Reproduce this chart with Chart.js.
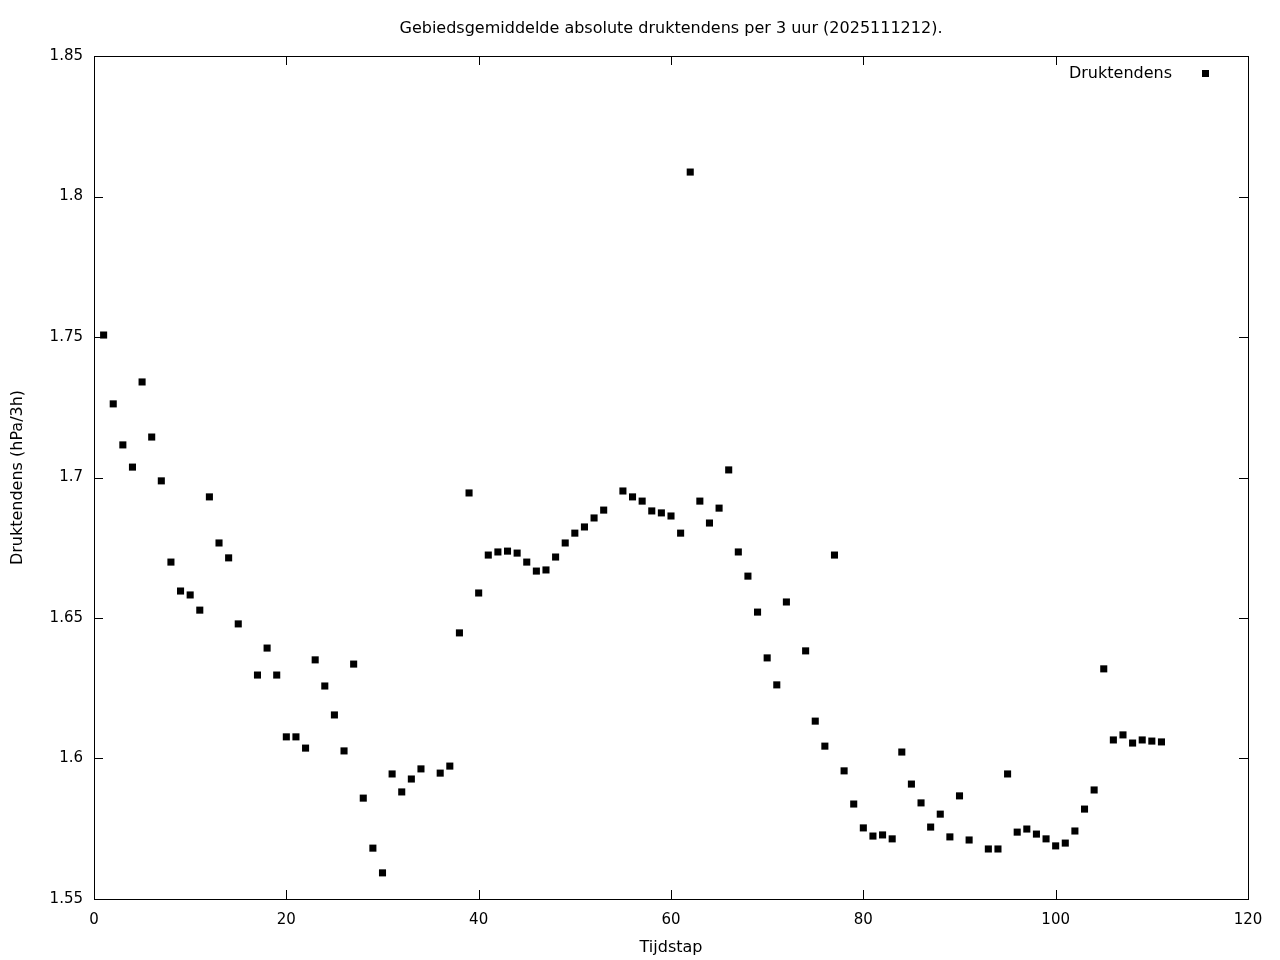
<!DOCTYPE html>
<html>
<head>
<meta charset="utf-8">
<script src="https://cdn.jsdelivr.net/npm/chart.js"></script>
<style>
  body { margin: 0; background: #fff; }
  canvas { display: block; }
</style>
</head>
<body>
<canvas id="chart" width="1280" height="960"></canvas>
<script>
// data (missing time steps left out)
const tijdstap = [
  1, 2, 3, 4, 5, 6, 7, 8, 9, 10, 11, 12, 13, 14, 15, 17, 18, 19, 20,
  21, 22, 23, 24, 25, 26, 27, 28, 29, 30, 31, 32, 33, 34, 36, 37, 38, 39, 40,
  41, 42, 43, 44, 45, 46, 47, 48, 49, 50, 51, 52, 53, 55, 56, 57, 58, 59, 60,
  61, 62, 63, 64, 65, 66, 67, 68, 69, 70, 71, 72, 74, 75, 76, 77, 78, 79, 80,
  81, 82, 83, 84, 85, 86, 87, 88, 89, 90, 91, 93, 94, 95, 96, 97, 98, 99, 100,
  101, 102, 103, 104, 105, 106, 107, 108, 109, 110, 111
];
const druktendens = [
  1.7507, 1.7262, 1.7116, 1.7037, 1.7340, 1.7144, 1.6988, 1.6699, 1.6596, 1.6582,
  1.6528, 1.6931, 1.6767, 1.6714, 1.6479, 1.6297, 1.6393, 1.6297, 1.6077,
  1.6077, 1.6037, 1.6351, 1.6258, 1.6155, 1.6027, 1.6336, 1.5859, 1.5681, 1.5593,
  1.5945, 1.5881, 1.5927, 1.5963, 1.5948, 1.5973, 1.6447, 1.6945, 1.6589,
  1.6724, 1.6735, 1.6738, 1.6731, 1.6699, 1.6667, 1.6671, 1.6717, 1.6767, 1.6802,
  1.6824, 1.6856, 1.6884, 1.6952, 1.6931, 1.6916, 1.6881, 1.6874, 1.6863,
  1.6802, 1.8087, 1.6916, 1.6838, 1.6891, 1.7027, 1.6735, 1.6649, 1.6521, 1.6358,
  1.6262, 1.6557, 1.6383, 1.6133, 1.6044, 1.6724, 1.5956, 1.5838, 1.5753,
  1.5724, 1.5728, 1.5714, 1.6023, 1.5909, 1.5842, 1.5756, 1.5802, 1.5721, 1.5867,
  1.5710, 1.5678, 1.5678, 1.5945, 1.5738, 1.5749, 1.5731, 1.5714, 1.5689,
  1.5699, 1.5742, 1.5820, 1.5888, 1.6319, 1.6066, 1.6084, 1.6055, 1.6066, 1.6062, 1.6059
];
const xTicks = [0, 20, 40, 60, 80, 100, 120];
const yTicks = [1.55, 1.6, 1.65, 1.7, 1.75, 1.8, 1.85];

const titel = 'Gebiedsgemiddelde absolute druktendens per 3 uur (2025111212).';
const FONT = 'DejaVu Sans';

// gnuplot-achtige kader, inwaartse ticks, titel en legenda
const gnuplotFrame = {
  id: 'gnuplotFrame',
  afterDraw(chart) {
    const { ctx, chartArea: a, scales } = chart;
    ctx.save();
    ctx.strokeStyle = '#000';
    ctx.lineWidth = 1;
    ctx.strokeRect(Math.round(a.left) + 0.5, Math.round(a.top) + 0.5,
      Math.round(a.right - a.left), Math.round(a.bottom - a.top));

    ctx.beginPath();
    xTicks.forEach(v => {
      const px = Math.round(scales.x.getPixelForValue(v)) + 0.5;
      ctx.moveTo(px, a.bottom); ctx.lineTo(px, a.bottom - 9);
      ctx.moveTo(px, a.top); ctx.lineTo(px, a.top + 9);
    });
    yTicks.forEach(v => {
      const py = Math.round(scales.y.getPixelForValue(v)) + 0.5;
      ctx.moveTo(a.left, py); ctx.lineTo(a.left + 9, py);
      ctx.moveTo(a.right, py); ctx.lineTo(a.right - 9, py);
    });
    ctx.stroke();

    ctx.fillStyle = '#000';
    ctx.font = '16px "' + FONT + '"';
    ctx.textBaseline = 'middle';
    ctx.textAlign = 'center';
    ctx.fillText(titel, (a.left + a.right) / 2, 29);

    // legenda
    ctx.textAlign = 'right';
    ctx.fillText('Druktendens', 1172, 74);
    ctx.fillRect(1202, 70, 7, 7);
    ctx.restore();
  }
};

new Chart(document.getElementById('chart'), {
  type: 'scatter',
  data: {
    datasets: [{
      label: 'Druktendens',
      data: tijdstap.map((t, i) => ({ x: t, y: druktendens[i] })),
      pointStyle: 'rect',
      pointRadius: 5,
      pointBorderWidth: 0,
      backgroundColor: '#000',
      borderColor: '#000'
    }]
  },
  options: {
    responsive: false,
    animation: false,
    layout: { padding: { top: 56, right: 32, left: 8, bottom: 0 } },
    plugins: {
      legend: { display: false },
      title: { display: false },
      tooltip: { enabled: false }
    },
    scales: {
      x: {
        type: 'linear',
        min: 0, max: 120,
        afterBuildTicks: s => { s.ticks = xTicks.map(v => ({ value: v })); },
        afterFit: s => { s.height = 61; },
        grid: { display: false },
        border: { display: false },
        ticks: { color: '#000', padding: 4, font: { family: FONT, size: 15 } },
        title: { display: true, text: 'Tijdstap', color: '#000', padding: { top: 4, bottom: 3 }, font: { family: FONT, size: 16 } }
      },
      y: {
        type: 'linear',
        min: 1.55, max: 1.85,
        afterBuildTicks: s => { s.ticks = yTicks.map(v => ({ value: v })); },
        afterFit: s => { s.width = 86; },
        grid: { display: false },
        border: { display: false },
        ticks: {
          color: '#000', padding: 3, font: { family: FONT, size: 15 },
          callback: v => String(Math.round(v * 100) / 100)
        },
        title: { display: true, text: 'Druktendens (hPa/3h)', color: '#000', padding: { top: 0, bottom: 0 }, font: { family: FONT, size: 16 } }
      }
    }
  },
  plugins: [gnuplotFrame]
});
</script>
</body>
</html>
